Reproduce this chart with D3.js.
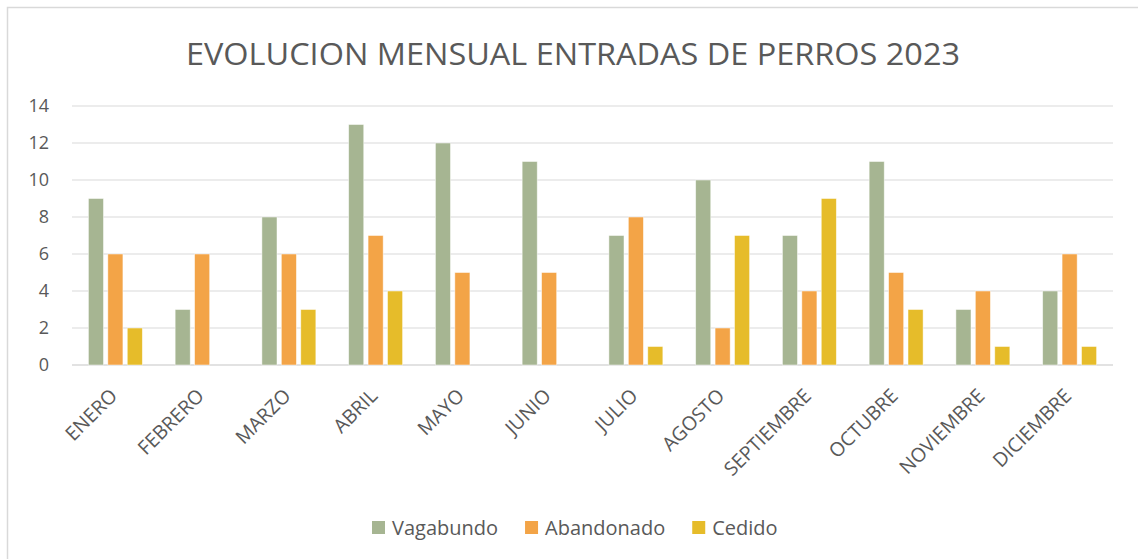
<!DOCTYPE html>
<html>
<head>
<meta charset="utf-8">
<title>Evolucion mensual entradas de perros 2023</title>
<script src="https://d3js.org/d3.v7.min.js"></script>
<style>
  html, body { margin: 0; padding: 0; background: #fff; }
  text { font-family: "Open Sans", "Liberation Sans", sans-serif; fill: #595959; }
</style>
</head>
<body>
<script>
const months = ["ENERO", "FEBRERO", "MARZO", "ABRIL", "MAYO", "JUNIO", "JULIO",
  "AGOSTO", "SEPTIEMBRE", "OCTUBRE", "NOVIEMBRE", "DICIEMBRE"];
const seriesNames = ["Vagabundo", "Abandonado", "Cedido"];
const vagabundo = [9, 3, 8, 13, 12, 11, 7, 10, 7, 11, 3, 4];
const abandonado = [6, 6, 6, 7, 5, 5, 8, 2, 4, 5, 4, 6];
const cedido = [2, 0, 3, 4, 0, 0, 1, 7, 9, 3, 1, 1];
const yTicks = [0, 2, 4, 6, 8, 10, 12, 14];
const colors = ["#a6b592", "#f3a447", "#e6bc2a"];

const seriesValues = [vagabundo, abandonado, cedido];
const width = 1138, height = 559;
const plot = { left: 72, right: 1113, top: 106, bottom: 365 };

const svg = d3.select("body").append("svg")
  .attr("width", width)
  .attr("height", height);

// chart area border
svg.append("rect")
  .attr("x", 7.5).attr("y", 7.5)
  .attr("width", width + 10).attr("height", height + 10)
  .attr("fill", "#fff")
  .attr("stroke", "#d9d9d9")
  .attr("stroke-width", 1.5);

svg.append("text")
  .attr("x", 573)
  .attr("y", 65)
  .attr("text-anchor", "middle")
  .attr("font-size", "31px")
  .attr("textLength", 774)
  .attr("lengthAdjust", "spacingAndGlyphs")
  .text("EVOLUCION MENSUAL ENTRADAS DE PERROS 2023");

const x = d3.scaleBand().domain(months).range([plot.left, plot.right]);
const y = d3.scaleLinear().domain([0, 14]).range([plot.bottom, plot.top]);

// gridlines
svg.append("g").selectAll("line")
  .data(yTicks)
  .join("line")
  .attr("x1", plot.left).attr("x2", plot.right)
  .attr("y1", d => y(d)).attr("y2", d => y(d))
  .attr("stroke", "#d9d9d9")
  .attr("stroke-width", d => d === 0 ? 1.5 : 1.2);

// y axis labels
const yAxis = svg.append("g")
  .attr("transform", `translate(${plot.left},0)`)
  .call(d3.axisLeft(y).tickValues(yTicks).tickSize(0).tickPadding(23));
yAxis.select(".domain").remove();
yAxis.selectAll("text")
  .attr("font-size", "18px")
  .style("font-family", "\"Open Sans\", sans-serif")
  .attr("fill", "#595959");

// bars
const barW = x.bandwidth() * 0.174;
const step = x.bandwidth() * 0.224;
const inner = d3.scaleOrdinal().domain(seriesNames).range([-step, 0, step]);

seriesNames.forEach((name, si) => {
  svg.append("g").selectAll("rect")
    .data(months.map((m, i) => ({ m, v: seriesValues[si][i] })))
    .join("rect")
    .attr("x", d => x(d.m) + x.bandwidth() / 2 + inner(name) - barW / 2)
    .attr("y", d => y(d.v))
    .attr("width", barW)
    .attr("height", d => y(0) - y(d.v))
    .attr("fill", colors[si])
    .attr("stroke", "#ffffff")
    .attr("stroke-opacity", 0.6)
    .attr("stroke-width", 0.8);
});

// month labels, rotated
svg.append("g").selectAll("text")
  .data(months)
  .join("text")
  .attr("transform", d => `translate(${x(d) + x.bandwidth() / 2 + 3},${plot.bottom + 32}) rotate(-45)`)
  .attr("text-anchor", "end")
  .attr("font-size", "19.5px")
  .text(d => d);

// legend
const legend = svg.append("g").attr("transform", "translate(372,0)");
let lx = 0;
seriesNames.forEach((name, i) => {
  const g = legend.append("g").attr("transform", `translate(${lx},0)`);
  g.append("rect")
    .attr("x", 0).attr("y", 521)
    .attr("width", 13).attr("height", 13)
    .attr("fill", colors[i]);
  const t = g.append("text")
    .attr("x", 20).attr("y", 535)
    .attr("font-size", "20px")
    .text(name);
  lx += 20 + t.node().getComputedTextLength() + 27;
});
</script>
</body>
</html>
